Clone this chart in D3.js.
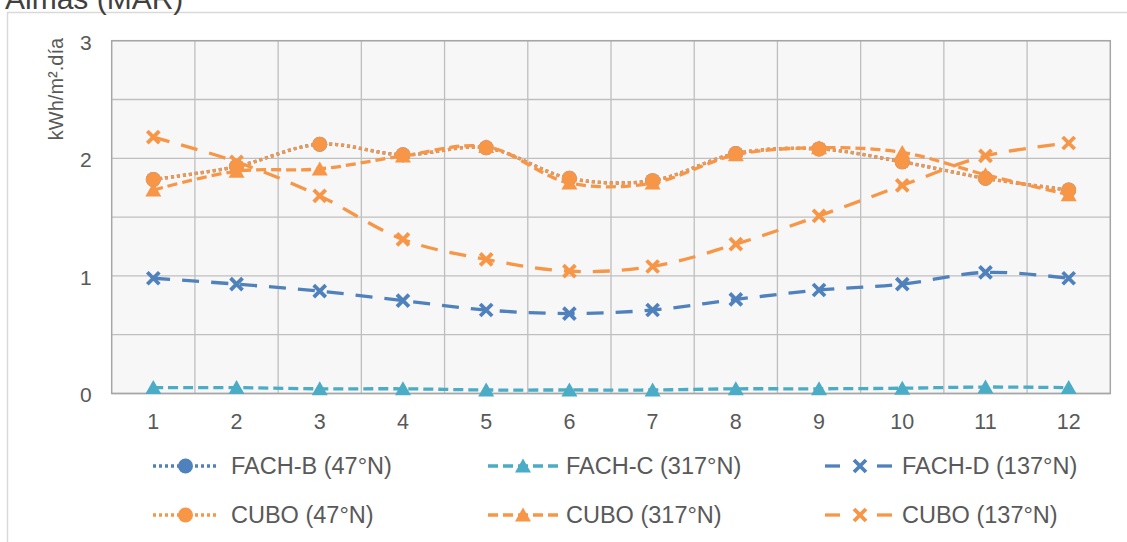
<!DOCTYPE html>
<html>
<head>
<meta charset="utf-8">
<script src="https://cdn.jsdelivr.net/npm/d3@7/dist/d3.min.js"></script>
<style>
  html, body { margin: 0; padding: 0; background: #ffffff; }
  svg { display: block; font-family: "Liberation Sans", Arial, sans-serif; }
</style>
</head>
<body>
<svg id="chart" width="1127" height="542"></svg>
<script>
// Monthly irradiation per orientation (kWh/m².día)
const months = [1, 2, 3, 4, 5, 6, 7, 8, 9, 10, 11, 12];
const yTicks = [0, 1, 2, 3];
const yGrid = [0, 0.5, 1, 1.5, 2, 2.5, 3];

const fachB = [1.82, 1.93, 2.12, 2.03, 2.09, 1.83, 1.81, 2.04, 2.08, 1.97, 1.83, 1.73];
const fachC = [0.05, 0.05, 0.04, 0.04, 0.03, 0.03, 0.03, 0.04, 0.04, 0.045, 0.055, 0.05];
const fachD = [0.98, 0.93, 0.87, 0.79, 0.71, 0.68, 0.71, 0.80, 0.88, 0.93, 1.03, 0.98];
const cubo47 = [1.82, 1.93, 2.12, 2.03, 2.09, 1.83, 1.81, 2.04, 2.08, 1.97, 1.83, 1.73];
const cubo317 = [1.73, 1.89, 1.91, 2.02, 2.10, 1.79, 1.79, 2.03, 2.09, 2.05, 1.86, 1.69];
const cubo137 = [2.18, 1.97, 1.68, 1.31, 1.14, 1.04, 1.08, 1.27, 1.51, 1.77, 2.02, 2.13];

const seriesNames = ["FACH-B (47°N)", "FACH-C (317°N)", "FACH-D (137°N)",
                     "CUBO (47°N)", "CUBO (317°N)", "CUBO (137°N)"];

const BLUE = "#4f81bd", CYAN = "#4bacc6", ORANGE = "#f79646";

const series = [
  { name: seriesNames[0], values: fachB,   color: BLUE,   style: "dot",      marker: "circle" },
  { name: seriesNames[1], values: fachC,   color: CYAN,   style: "dash",     marker: "triangle" },
  { name: seriesNames[2], values: fachD,   color: BLUE,   style: "longdash", marker: "x" },
  { name: seriesNames[3], values: cubo47,  color: ORANGE, style: "dot",      marker: "circle" },
  { name: seriesNames[4], values: cubo317, color: ORANGE, style: "dash",     marker: "triangle" },
  { name: seriesNames[5], values: cubo137, color: ORANGE, style: "longdash", marker: "x" }
];

const dashes = { dot: "3,3", dash: "10,5", longdash: "17,12" };

const svg = d3.select("#chart");

// chart frame and title
svg.append("rect")
  .attr("x", 7.5).attr("y", 12.5)
  .attr("width", 1300).attr("height", 700)
  .attr("fill", "#ffffff").attr("stroke", "#d9d9d9").attr("stroke-width", 1.5);

svg.append("text")
  .attr("x", 5).attr("y", 9)
  .attr("font-size", 30).attr("fill", "#404040")
  .text("Almas (MAR)");

const plot = { left: 111.7, right: 1110.3, top: 40.7, bottom: 393.5 };

const x = d3.scaleBand().domain(months).range([plot.left, plot.right]);
const y = d3.scaleLinear().domain([0, 3]).range([plot.bottom, plot.top]);

// plot area
svg.append("rect")
  .attr("x", plot.left).attr("y", plot.top)
  .attr("width", plot.right - plot.left).attr("height", plot.bottom - plot.top)
  .attr("fill", "#f7f7f7");

const grid = svg.append("g").attr("stroke", "#bfbfbf").attr("stroke-width", 1.3);
grid.selectAll("line.h").data(yGrid).join("line")
  .attr("x1", plot.left).attr("x2", plot.right)
  .attr("y1", d => y(d)).attr("y2", d => y(d));
grid.selectAll("line.v").data(months.slice(1)).join("line")
  .attr("x1", d => x(d)).attr("x2", d => x(d))
  .attr("y1", plot.top).attr("y2", plot.bottom);

svg.append("rect")
  .attr("x", plot.left).attr("y", plot.top)
  .attr("width", plot.right - plot.left).attr("height", plot.bottom - plot.top)
  .attr("fill", "none").attr("stroke", "#a6a6a6").attr("stroke-width", 1.5);

// axes
const yAxis = d3.axisLeft(y).tickValues(yTicks).tickSize(0).tickPadding(20).tickFormat(d3.format("d"));
const yG = svg.append("g").attr("transform", `translate(${plot.left},0)`).call(yAxis);
yG.select(".domain").remove();
yG.selectAll("text").attr("font-size", 21).attr("fill", "#595959")
  .attr("font-family", "Liberation Sans, Arial, sans-serif").attr("dy", "0.4em");

const xAxis = d3.axisBottom(x).tickSize(0).tickPadding(20);
const xG = svg.append("g").attr("transform", `translate(0,${plot.bottom})`).call(xAxis);
xG.select(".domain").remove();
xG.selectAll("text").attr("font-size", 21.5).attr("fill", "#595959")
  .attr("font-family", "Liberation Sans, Arial, sans-serif");

svg.append("text")
  .attr("transform", "translate(63,89) rotate(-90)")
  .attr("text-anchor", "middle")
  .attr("font-size", 20).attr("fill", "#595959")
  .text("kWh/m².día");

// markers
function drawMarker(g, type, color) {
  if (type === "circle") {
    g.append("circle").attr("r", 7.5).attr("fill", color);
  } else if (type === "triangle") {
    g.append("path").attr("d", "M0,-7.5L8,6.5L-8,6.5Z").attr("fill", color);
  } else {
    g.append("path").attr("d", "M-6,-6L6,6M-6,6L6,-6")
      .attr("stroke", color).attr("stroke-width", 3.8).attr("fill", "none");
  }
}

const line = d3.line()
  .x((d, i) => x(months[i]) + x.bandwidth() / 2)
  .y(d => y(d))
  .curve(d3.curveCatmullRom.alpha(0.5));

series.forEach(s => {
  const g = svg.append("g");
  g.append("path")
    .attr("d", line(s.values))
    .attr("fill", "none")
    .attr("stroke", s.color)
    .attr("stroke-width", 3.3)
    .attr("stroke-dasharray", dashes[s.style]);
  s.values.forEach((v, i) => {
    const mg = g.append("g")
      .attr("transform", `translate(${x(months[i]) + x.bandwidth() / 2},${y(v)})`);
    drawMarker(mg, s.marker, s.color);
  });
});

// legend: three columns, two rows
const legendCols = [153, 488, 825];
const legendRows = [466, 515];
series.forEach((s, i) => {
  const cx = legendCols[i % 3];
  const cy = legendRows[Math.floor(i / 3)];
  const g = svg.append("g").attr("transform", `translate(${cx},${cy})`);
  if (s.style === "longdash") {
    g.append("line").attr("x1", 0).attr("x2", 15).attr("stroke", s.color).attr("stroke-width", 3.3);
    g.append("line").attr("x1", 52).attr("x2", 67).attr("stroke", s.color).attr("stroke-width", 3.3);
    const m = g.append("g").attr("transform", "translate(35,0)");
    drawMarker(m, s.marker, s.color);
  } else {
    const w = s.style === "dot" ? 65 : 70;
    g.append("line").attr("x1", 0).attr("x2", w)
      .attr("stroke", s.color).attr("stroke-width", 3.3)
      .attr("stroke-dasharray", dashes[s.style]);
    const m = g.append("g").attr("transform", `translate(${w / 2},0)`);
    drawMarker(m, s.marker, s.color);
  }
  g.append("text")
    .attr("x", s.style === "longdash" ? 77 : 78)
    .attr("dy", "0.36em")
    .attr("font-size", 23.5).attr("fill", "#595959")
    .text(s.name);
});
</script>
</body>
</html>
